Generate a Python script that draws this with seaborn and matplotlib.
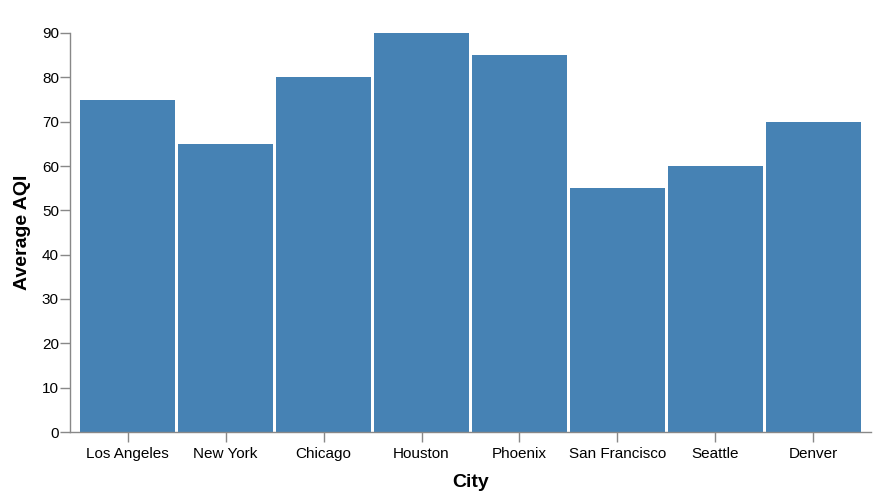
import pandas as pd
import matplotlib
matplotlib.use("Agg")
import matplotlib.pyplot as plt
import seaborn as sns

# Chart data
cities = ["Los Angeles", "New York", "Chicago", "Houston", "Phoenix",
          "San Francisco", "Seattle", "Denver"]
avg_aqi = [75, 65, 80, 90, 85, 55, 60, 70]

sns.set_style("white")
plt.rcParams['font.family'] = ['Liberation Sans', 'DejaVu Sans']
plt.rcParams['text.color'] = 'black'
plt.rcParams['axes.labelcolor'] = 'black'

df = pd.DataFrame({"City": cities, "Average AQI": avg_aqi})

fig = plt.figure(figsize=(8.8, 5.0), dpi=100)
ax = fig.add_axes([70 / 880, 68 / 500, 801 / 880, 399 / 500])

sns.barplot(data=df, x="City", y="Average AQI", color="#4682b4",
            saturation=1, width=0.96, linewidth=0, ax=ax)

ax.set_xlim(-0.587, 7.587)
ax.set_ylim(0, 90)
ax.set_yticks(range(0, 91, 10))

axis_grey = "#888888"
for side in ["top", "right"]:
    ax.spines[side].set_visible(False)
for side in ["left", "bottom"]:
    ax.spines[side].set_color(axis_grey)
    ax.spines[side].set_linewidth(1)

ax.tick_params(axis="both", bottom=True, left=True, direction="out",
               colors=axis_grey, length=7, width=1,
               labelcolor="black", labelsize=11)
ax.tick_params(axis="x", pad=4)
ax.tick_params(axis="y", pad=1)
ax.grid(False)

ax.set_xlabel("City", fontsize=14, fontweight="bold", labelpad=9)
ax.set_ylabel("Average AQI", fontsize=14, fontweight="bold", labelpad=7.5)

plt.savefig("out.png", dpi=100)
